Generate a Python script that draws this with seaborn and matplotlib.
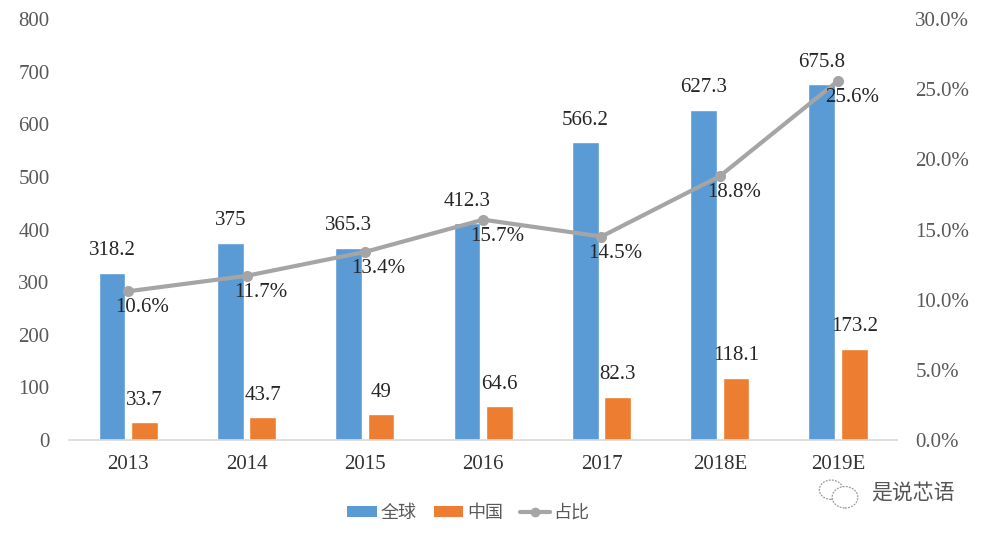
import matplotlib
matplotlib.use("Agg")
import matplotlib.pyplot as plt
import seaborn as sns
import pandas as pd
from matplotlib.patches import Patch, Ellipse
from matplotlib.lines import Line2D

years = ["2013", "2014", "2015", "2016", "2017", "2018E", "2019E"]
global_vals = [318.2, 375, 365.3, 412.3, 566.2, 627.3, 675.8]
china_vals = [33.7, 43.7, 49, 64.6, 82.3, 118.1, 173.2]
share_pct = [10.6, 11.7, 13.4, 15.7, 14.5, 18.8, 25.6]
series_names = ["全球", "中国", "占比"]
left_ticks = [0, 100, 200, 300, 400, 500, 600, 700, 800]
right_ticks = [0, 5, 10, 15, 20, 25, 30]

BLUE = "#5B9BD5"
ORANGE = "#ED7D31"
GRAY = "#A5A5A5"
TXT = "#595959"
SERIF = ["Liberation Serif", "DejaVu Serif"]
CJK = ["Noto Sans CJK SC", "DejaVu Sans"]

sns.set_theme(style="white")
plt.rcParams["font.family"] = SERIF

df = pd.DataFrame({
    "year": years * 2,
    "value": global_vals + china_vals,
    "series": [series_names[0]] * len(years) + [series_names[1]] * len(years),
})

fig = plt.figure(figsize=(9.86, 5.37), dpi=100)
ax = fig.add_axes([0.070, 0.1806, 0.840, 0.784])

sns.barplot(data=df, x="year", y="value", hue="series", order=years,
            hue_order=series_names[:2], palette=[BLUE, ORANGE],
            width=0.55, gap=0.18, saturation=1, legend=False, ax=ax, errorbar=None)

for cont in ax.containers:
    ax.bar_label(cont, labels=[f"{v:g}" for v in cont.datavalues],
                 padding=9, fontsize=15, color="#262626", family=SERIF)

ax.set_ylim(0, 800)
ax.set_xlim(-0.5, len(years) - 0.5)
ax.set_yticks(left_ticks)
ax.set_yticklabels([str(t) for t in left_ticks], fontsize=15, color=TXT)
ax.set_xlabel("")
ax.set_ylabel("")
ax.tick_params(axis="x", length=0, pad=11, labelsize=15, labelcolor="#333333")
ax.tick_params(axis="y", length=0, pad=14)
for s in ["top", "right", "left"]:
    ax.spines[s].set_visible(False)
ax.spines["bottom"].set_color("#D9D9D9")
ax.spines["bottom"].set_linewidth(1.2)

ax2 = ax.twinx()
sdf = pd.DataFrame({"x": list(range(len(years))), "share": [v / 100 for v in share_pct]})
sns.lineplot(data=sdf, x="x", y="share", ax=ax2, color=GRAY, linewidth=3,
             marker="o", markersize=8, markeredgewidth=0)
ax2.set_ylim(0, 0.30)
ax2.set_xlim(-0.5, len(years) - 0.5)
ax2.set_yticks([t / 100 for t in right_ticks])
ax2.set_yticklabels([f"{t:.1f}%" for t in right_ticks], fontsize=15, color=TXT)
ax2.tick_params(axis="y", length=0, pad=13)
ax2.set_ylabel("")
ax2.set_xlabel("")
for s in ["top", "right", "left", "bottom"]:
    ax2.spines[s].set_visible(False)

for i, v in enumerate(share_pct):
    ax2.annotate(f"{v:.1f}%", (i, v / 100), xytext=(10, -12),
                 textcoords="offset points", ha="center", va="center",
                 fontsize=15, color="#262626", family=SERIF)

handles = [Patch(facecolor=BLUE, edgecolor="none"),
           Patch(facecolor=ORANGE, edgecolor="none"),
           Line2D([0], [0], color=GRAY, lw=3, marker="o", markersize=7, markeredgewidth=0)]
fig.legend(handles, series_names, loc="center", bbox_to_anchor=(0.475, 0.045),
           ncol=3, frameon=False, prop={"family": CJK, "size": 13},
           handlelength=1.65, handleheight=0.55, handletextpad=0.2, columnspacing=0.95,
           labelcolor=TXT)

# watermark
fig.text(0.968, 0.082, "是说芯语", ha="right", va="center", fontsize=15,
         color="#555555", family=CJK)
fig.patches.append(Ellipse((0.843, 0.088), 0.024, 0.036, transform=fig.transFigure,
                           fill=False, edgecolor="#9A9A9A", lw=0.9, ls=(0, (1.5, 1))))
fig.patches.append(Ellipse((0.857, 0.074), 0.026, 0.040, transform=fig.transFigure,
                           facecolor="white", edgecolor="#9A9A9A", lw=0.9, ls=(0, (1.5, 1))))

fig.savefig("out.png", dpi=100)
